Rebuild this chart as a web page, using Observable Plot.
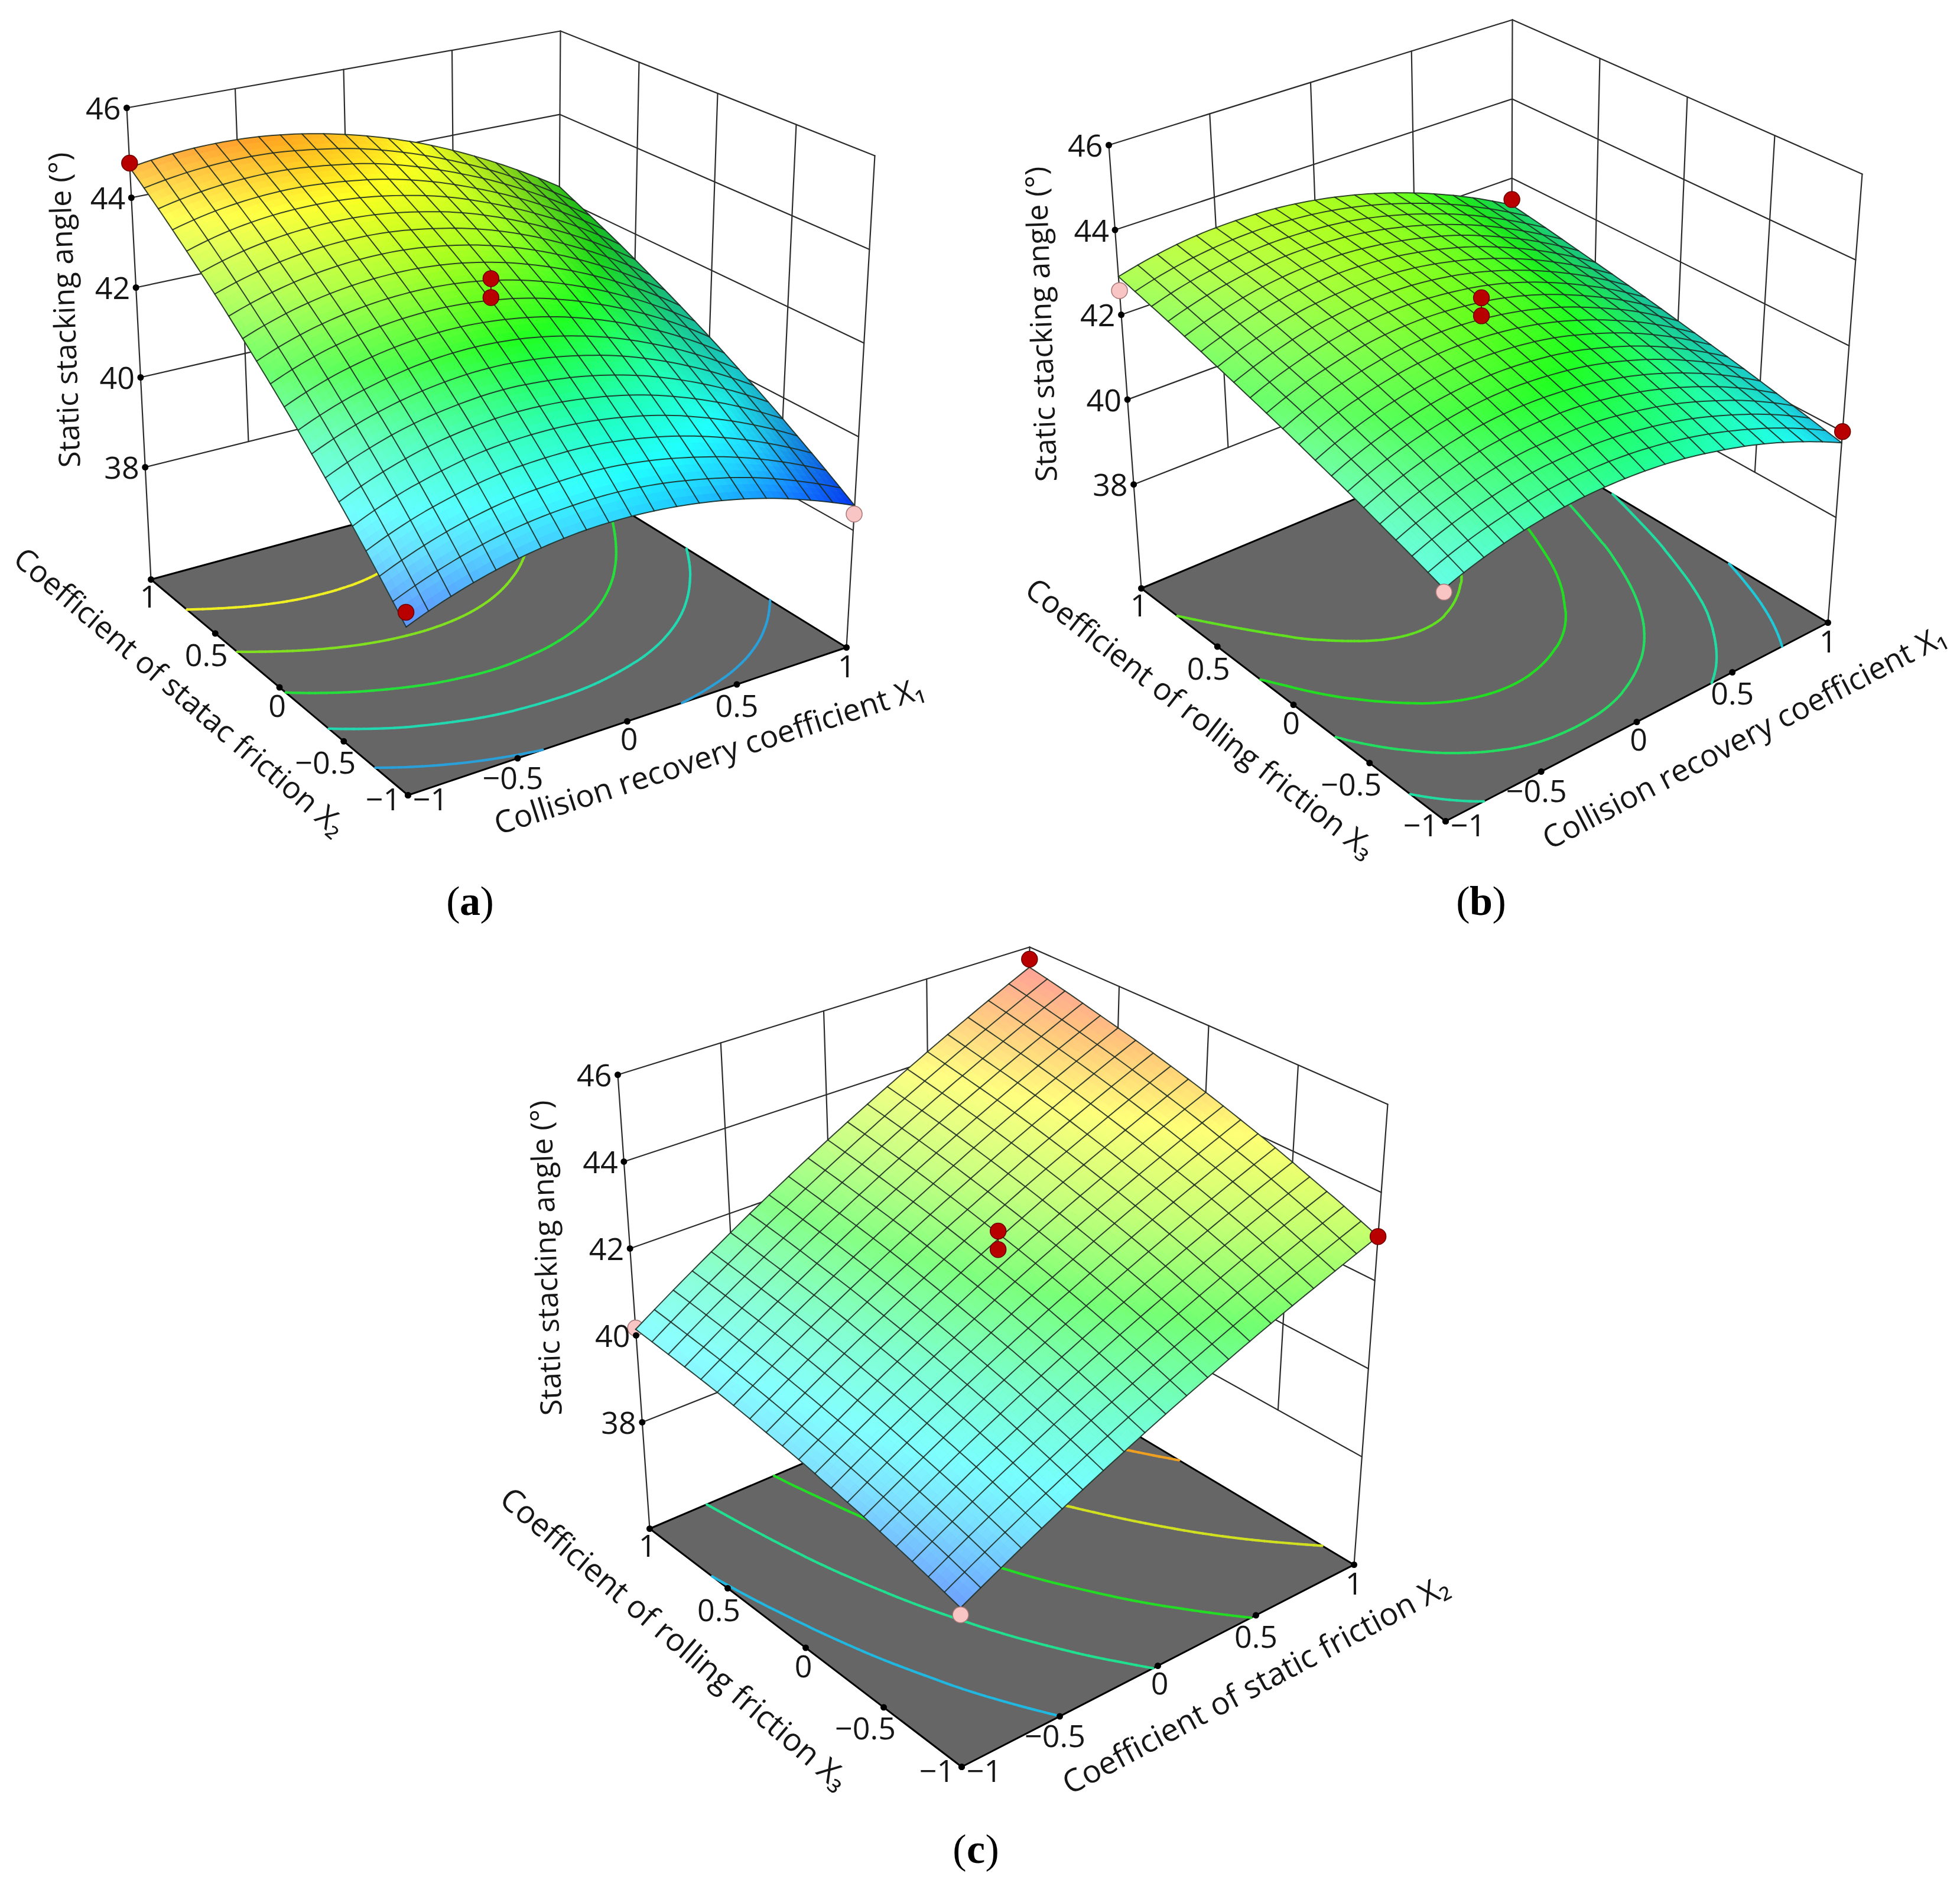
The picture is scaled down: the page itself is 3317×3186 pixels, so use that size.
<!DOCTYPE html>
<html><head><meta charset="utf-8">
<style>html,body{margin:0;padding:0;background:#fff}</style>
<script src="https://cdn.jsdelivr.net/npm/d3@7"></script>
<script src="https://cdn.jsdelivr.net/npm/@observablehq/plot@0.6"></script>
</head><body><div id="chart"></div>
<script>
// Surface heights (deg) at every 0.2 step of both factors.
// Rows: second factor -1..1; columns: first factor -1..1.
const factorLevels = [-1,-0.8,-0.6,-0.4,-0.2,0,0.2,0.4,0.6,0.8,1];
const surfaceA = [
[38.81,39.15,39.41,39.59,39.69,39.70,39.63,39.48,39.25,38.93,38.53],
[39.43,39.79,40.06,40.24,40.32,40.33,40.23,40.04,39.77,39.40,38.94],
[40.05,40.42,40.68,40.86,40.93,40.91,40.79,40.58,40.26,39.85,39.34],
[40.65,41.02,41.29,41.45,41.52,41.47,41.33,41.09,40.74,40.29,39.74],
[41.25,41.61,41.86,42.02,42.07,42.01,41.84,41.57,41.19,40.71,40.12],
[41.84,42.19,42.42,42.55,42.58,42.50,42.32,42.02,41.62,41.12,40.50],
[42.42,42.74,42.95,43.06,43.07,42.97,42.76,42.44,42.02,41.50,40.87],
[43.00,43.28,43.46,43.54,43.52,43.39,43.17,42.84,42.40,41.87,41.23],
[43.56,43.81,43.95,43.99,43.94,43.79,43.55,43.20,42.76,42.23,41.59],
[44.12,44.31,44.41,44.42,44.33,44.17,43.90,43.54,43.10,42.56,41.93],
[44.67,44.80,44.85,44.82,44.70,44.50,44.22,43.86,43.41,42.88,42.27]];
const surfaceB = [
[40.56,40.85,41.05,41.17,41.21,41.17,41.05,40.84,40.56,40.19,39.74],
[40.81,41.13,41.35,41.49,41.53,41.49,41.35,41.13,40.81,40.41,39.91],
[41.05,41.39,41.63,41.78,41.82,41.78,41.63,41.39,41.05,40.62,40.08],
[41.30,41.65,41.90,42.05,42.10,42.04,41.89,41.63,41.27,40.81,40.25],
[41.53,41.89,42.14,42.29,42.34,42.28,42.12,41.84,41.47,40.99,40.41],
[41.77,42.13,42.37,42.52,42.56,42.49,42.32,42.04,41.65,41.17,40.57],
[42.00,42.34,42.58,42.72,42.75,42.67,42.50,42.21,41.81,41.32,40.73],
[42.23,42.55,42.78,42.89,42.91,42.83,42.64,42.35,41.96,41.47,40.88],
[42.46,42.75,42.95,43.05,43.05,42.95,42.76,42.48,42.09,41.61,41.03],
[42.68,42.94,43.10,43.18,43.16,43.06,42.86,42.57,42.20,41.73,41.18],
[42.90,43.11,43.24,43.28,43.25,43.13,42.93,42.65,42.29,41.85,41.32]];
const surfaceC = [
[38.90,39.34,39.78,40.21,40.63,41.05,41.45,41.85,42.24,42.62,43.00],
[39.08,39.54,39.99,40.43,40.87,41.29,41.71,42.12,42.53,42.92,43.31],
[39.25,39.72,40.19,40.64,41.09,41.53,41.96,42.38,42.80,43.21,43.60],
[39.41,39.89,40.37,40.84,41.30,41.75,42.19,42.63,43.06,43.48,43.89],
[39.55,40.05,40.54,41.02,41.49,41.96,42.41,42.86,43.30,43.73,44.16],
[39.69,40.19,40.70,41.19,41.67,42.15,42.62,43.08,43.53,43.98,44.42],
[39.80,40.32,40.84,41.34,41.84,42.33,42.81,43.29,43.75,44.21,44.66],
[39.91,40.44,40.97,41.49,42.00,42.50,42.99,43.48,43.96,44.43,44.89],
[40.00,40.54,41.08,41.61,42.14,42.65,43.16,43.66,44.15,44.63,45.10],
[40.07,40.63,41.18,41.73,42.26,42.79,43.31,43.82,44.32,44.82,45.31],
[40.14,40.71,41.27,41.83,42.38,42.92,43.45,43.97,44.49,45.00,45.50]];
// Design points: [first factor, second factor, measured value, above surface?, drawn behind surface?]
const pointsA = [[-1,1,44.77,1,0],[1,-1,38.35,0,0],[-1,-1,39.1,1,0],[0,0,42.97,1,0],[0,0,42.56,1,0]];
const pointsB = [[-1,1,42.57,0,0],[-1,-1,40.49,0,0],[1,-1,40.0,1,0],[1,1,41.46,1,0],[0,0,42.99,1,0],[0,0,42.57,1,0]];
const pointsC = [[-1,-1,38.75,0,0],[-1,1,40.17,0,1],[1,-1,43.0,1,0],[1,1,45.7,1,0],[0,0,42.99,1,0],[0,0,42.57,1,0]];
const contoursA = [39.6,40.7,41.7,42.8,43.9];
const contoursB = [40.27,40.85,41.44,42.02,42.64];
const contoursC = [40,41,42,43.3,44.5];
const zTicks = [38,40,42,44,46];
const floorTicks = [-1,-0.5,0,0.5,1];
const tickText = v => String(v).replace("-","\u2212");
const zTitle = "Static stacking angle (\u00B0)";

const colorStops = [38.3,39,39.7,40.2,41,42,43,44,44.8,45.6];
const colorRange = ["#0020ff","#1070ff","#20d0ff","#20ffff","#20ffb0","#20ff20","#a0ff20","#ffff20","#ffa020","#ff5050"];
const lineStops = [39.6,40,40.27,40.7,41,41.44,41.7,42.02,42.64,42.8,43.3,43.9,44.5];
const lineRange = ["#2a9fd8","#20b8e0","#20c8d8","#22d8b0","#20e090","#22dd60","#25de3a","#22dd22","#60e020","#80e020","#d0e020","#eeee22","#f0a020"];

const W = 3317, H = 3186;
const FONT = "'Open Sans','Noto Sans',sans-serif";
const surfaceColor = d3.scaleLinear().domain(colorStops).range(colorRange).clamp(true);
const contourColor = d3.scaleLinear().domain(lineStops).range(lineRange).clamp(true);

// Frame of each 3-D box: floor corners and corners of the z=46 plane.
const panels = [
 {table:surfaceA, pts:pointsA, levels:contoursA, front:[690,1345], right:[1432,1095], back:[943,793], left:[255,980],
  tFront:[680,442], tRight:[1480,263], tBack:[948,52], tLeft:[214,182], zf:35.5, zTitleAt:[110,524], title1:{t:"Coefficient of statac friction X\u2082",at:[303,1171],r:40.5,fs:51.5},
  title2:{t:"Collision recovery coefficient X\u2081",at:[1200,1280],r:-17.8,fs:52.5}, cap:["a",795,1525]},
 {table:surfaceB, pts:pointsB, levels:contoursB, front:[2446,1389], right:[3093,1053], back:[2557,733], left:[1931,995],
  tFront:[2440,569], tRight:[3151,294], tBack:[2559,33], tLeft:[1876,245], zf:35.55, zTitleAt:[1763,548], title1:{t:"Coefficient of rolling friction X\u2083",at:[2030,1216],r:38,fs:52},
  title2:{t:"Collision recovery coefficient X\u2081",at:[2952,1248],r:-27.4,fs:52.5}, cap:["b",2506,1525]},
 {table:surfaceC, pts:pointsC, levels:contoursC, front:[1627,2989], right:[2291,2647], back:[1735,2315], left:[1099,2586],
  tFront:[1621,2149], tRight:[2348,1868], tBack:[1742,1602], tLeft:[1045,1818], zf:35.55, zTitleAt:[925,2128], title1:{t:"Coefficient of rolling friction X\u2083",at:[1140,2773],r:40.5,fs:53.5},
  title2:{t:"Coefficient of static friction X\u2082",at:[2125,2851],r:-27.9,fs:53.5}, cap:["c",1651,3129]}
];
const leftOff = {"1":[-4,31],"0.5":[-15,39],"0":[-4,33],"-0.5":[-31,38],"-1":[-42,9]};
const rightOff = {"-1":[38,9],"-0.5":[-8,35],"0":[3,32],"0.5":[0,38],"1":[0,34]};

function camera(p){
  const bi=(A,B,C,D,s,t,k)=>(1-t)*((1-s)*A[k]+s*B[k])+t*((1-s)*D[k]+s*C[k]);
  return (u,v,z)=>{
    const s=(u+1)/2, t=(v+1)/2, r=(z-p.zf)/(46-p.zf);
    return [0,1].map(k=>{
      const f=bi(p.front,p.right,p.back,p.left,s,t,k), g=bi(p.tFront,p.tRight,p.tBack,p.tLeft,s,t,k);
      return f+(g-f)*r;
    });
  };
}
function heightAt(table,u,v){
  const tu=(u+1)*5, tv=(v+1)*5;
  const i=Math.max(1,Math.min(9,Math.round(tu))), j=Math.max(1,Math.min(9,Math.round(tv)));
  const L=r=>[r*(r-1)/2,1-r*r,r*(r+1)/2], lu=L(tu-i), lv=L(tv-j);
  let out=0;
  for(let n=0;n<3;n++) for(let m=0;m<3;m++) out+=lv[n]*lu[m]*table[j-1+n][i-1+m];
  return out;
}
function shaded(table,u,v){
  const a=Math.max(-1,u-.1), b=Math.min(1,u+.1);
  const z=heightAt(table,u,v), du=(heightAt(table,b,v)-heightAt(table,a,v))/(b-a);
  const base=surfaceColor(z), pale=Math.max(0,du+.5)*.145, dark=Math.max(0,-du-1.8)*.18;
  if(pale>0) return d3.interpolateRgb(base,"#ffffff")(Math.min(pale,.5));
  if(dark>0) return d3.interpolateRgb(base,"#000000")(Math.min(dark,.4));
  return d3.rgb(base).formatRgb();
}
function panelMarks(p){
  const P=camera(p), T=p.table, marks=[];
  // walls
  const wall=[]; let id=0;
  const seg=(a,b)=>{id++;const A=P(...a),B=P(...b);wall.push({id,x:A[0],y:A[1]},{id,x:B[0],y:B[1]});};
  for(const z of zTicks){ seg([-1,1,z],[1,1,z]); seg([1,1,z],[1,-1,z]); }
  for(const q of floorTicks.slice(1,4)){ seg([q,1,38],[q,1,46]); seg([1,q,38],[1,q,46]); }
  seg([-1,1,p.zf],[-1,1,46]); seg([1,1,p.zf],[1,1,46]); seg([1,-1,p.zf],[1,-1,46]);
  marks.push(Plot.line(wall,{x:"x",y:"y",z:"id",stroke:"#2b2b2b",strokeWidth:2.2}));
  // floor
  const corners=[[-1,-1],[1,-1],[1,1],[-1,1]].map(c=>{const q=P(c[0],c[1],p.zf);return {x:q[0],y:q[1]};});
  marks.push(Plot.line(corners,{x:"x",y:"y",fill:"#666666",stroke:"#000",strokeWidth:3,curve:"linear-closed"}));
  // contours on the floor
  const segs=[], n=100, st=2/n;
  for(const lv of p.levels){
    for(let j=0;j<n;j++) for(let i=0;i<n;i++){
      const u=-1+i*st, v=-1+j*st, c=[[u,v],[u+st,v],[u+st,v+st],[u,v+st]], hz=c.map(q=>heightAt(T,q[0],q[1])), hits=[];
      for(let e=0;e<4;e++){
        const a=e,b=(e+1)%4;
        if((hz[a]<lv)!==(hz[b]<lv)){const r=(lv-hz[a])/(hz[b]-hz[a]);hits.push([c[a][0]+r*(c[b][0]-c[a][0]),c[a][1]+r*(c[b][1]-c[a][1])]);}
      }
      if(hits.length>=2){const A=P(hits[0][0],hits[0][1],p.zf),B=P(hits[1][0],hits[1][1],p.zf);segs.push({x1:A[0],y1:A[1],x2:B[0],y2:B[1],lv});}
    }
  }
  marks.push(Plot.link(segs,{x1:"x1",y1:"y1",x2:"x2",y2:"y2",stroke:d=>contourColor(d.lv),strokeWidth:4.2,strokeLinecap:"round"}));
  // points hidden behind the surface
  const pt=d=>P(d[0],d[1],d[2]);
  marks.push(Plot.dot(p.pts.filter(d=>d[4]),{x:d=>pt(d)[0],y:d=>pt(d)[1],r:13.5,fill:d=>d[3]?"#b80000":"#f9c4c4",stroke:d=>d[3]?"#6e0000":"#a87878",strokeWidth:1.5}));
  // surface facets, far corner first
  const cells=20, sub=3, N=cells*sub, h=2/N, quads=[];
  let qid=0;
  for(let j=N-1;j>=0;j--) for(let i=N-1;i>=0;i--){
    const u=-1+i*h, v=-1+j*h, col=shaded(T,u+h/2,v+h/2);
    qid++;
    for(const [a,b] of [[u,v],[u+h,v],[u+h,v+h],[u,v+h]]){
      const q=P(a,b,heightAt(T,a,b));
      quads.push({id:qid,x:q[0],y:q[1],col});
    }
  }
  marks.push(Plot.line(quads,{x:"x",y:"y",z:"id",fill:"col",stroke:"col",strokeWidth:1,curve:"linear-closed"}));
  // mesh
  const mesh=[]; let mid=0;
  for(let k=0;k<=cells;k++){
    const a=-1+2*k/cells; mid++;
    for(let s=0;s<=N;s++){const b=-1+s*h,q=P(a,b,heightAt(T,a,b));mesh.push({id:mid,x:q[0],y:q[1]});}
    mid++;
    for(let s=0;s<=N;s++){const b=-1+s*h,q=P(b,a,heightAt(T,b,a));mesh.push({id:mid,x:q[0],y:q[1]});}
  }
  marks.push(Plot.line(mesh,{x:"x",y:"y",z:"id",stroke:"#1d2b22",strokeWidth:2,strokeOpacity:.88}));
  // design points; the centre replicates are joined by a short line
  const front=p.pts.filter(d=>!d[4]);
  const centre=front.filter(d=>d[0]===0&&d[1]===0);
  marks.push(Plot.line(centre,{x:d=>pt(d)[0],y:d=>pt(d)[1],stroke:"#6e0000",strokeWidth:2}));
  marks.push(Plot.dot(front,{x:d=>pt(d)[0],y:d=>pt(d)[1],r:13.5,fill:d=>d[3]?"#b80000":"#f9c4c4",stroke:d=>d[3]?"#6e0000":"#a87878",strokeWidth:1.5}));
  // ticks
  const dots=[...zTicks.map(z=>P(-1,1,z)),...floorTicks.map(q=>P(-1,q,p.zf)),...floorTicks.map(q=>P(q,-1,p.zf))];
  marks.push(Plot.dot(dots,{x:d=>d[0],y:d=>d[1],r:5.5,fill:"#000"}));
  const txt={fontFamily:FONT,fill:"#161616",lineAnchor:"middle"};
  marks.push(Plot.text(zTicks,{...txt,x:z=>P(-1,1,z)[0]-10,y:z=>P(-1,1,z)[1]+3,text:z=>String(z),fontSize:52,textAnchor:"end"}));
  marks.push(Plot.text(floorTicks,{...txt,x:q=>P(-1,q,p.zf)[0]+leftOff[q][0],y:q=>P(-1,q,p.zf)[1]+leftOff[q][1],text:tickText,fontSize:52}));
  marks.push(Plot.text(floorTicks,{...txt,x:q=>P(q,-1,p.zf)[0]+rightOff[q][0],y:q=>P(q,-1,p.zf)[1]+rightOff[q][1],text:tickText,fontSize:52}));
  marks.push(Plot.text([zTitle],{...txt,x:()=>p.zTitleAt[0],y:()=>p.zTitleAt[1],text:d=>d,fontSize:50,rotate:-92}));
  for(const t of [p.title1,p.title2]) marks.push(Plot.text([t.t],{...txt,x:()=>t.at[0],y:()=>t.at[1],text:d=>d,fontSize:t.fs,rotate:t.r}));
  // caption
  const [c,cx,cy]=p.cap, half={a:17,b:19,c:16}[c];
  const cap={fontFamily:"'Liberation Serif',serif",fontSize:70,fill:"#000",lineAnchor:"middle"};
  marks.push(Plot.text(["("],{...cap,x:()=>cx-half,y:()=>cy,text:d=>d,textAnchor:"end"}));
  marks.push(Plot.text([c],{...cap,x:()=>cx,y:()=>cy,text:d=>d,fontWeight:"bold"}));
  marks.push(Plot.text([")"],{...cap,x:()=>cx+half,y:()=>cy,text:d=>d,textAnchor:"start"}));
  return marks;
}
const chart = Plot.plot({
  width:W, height:H, margin:0,
  x:{domain:[0,W],range:[0,W],axis:null},
  y:{domain:[0,H],range:[0,H],axis:null},
  style:{background:"#fff"},
  marks:panels.flatMap(panelMarks)
});
document.getElementById("chart").append(chart);
</script></body></html>
